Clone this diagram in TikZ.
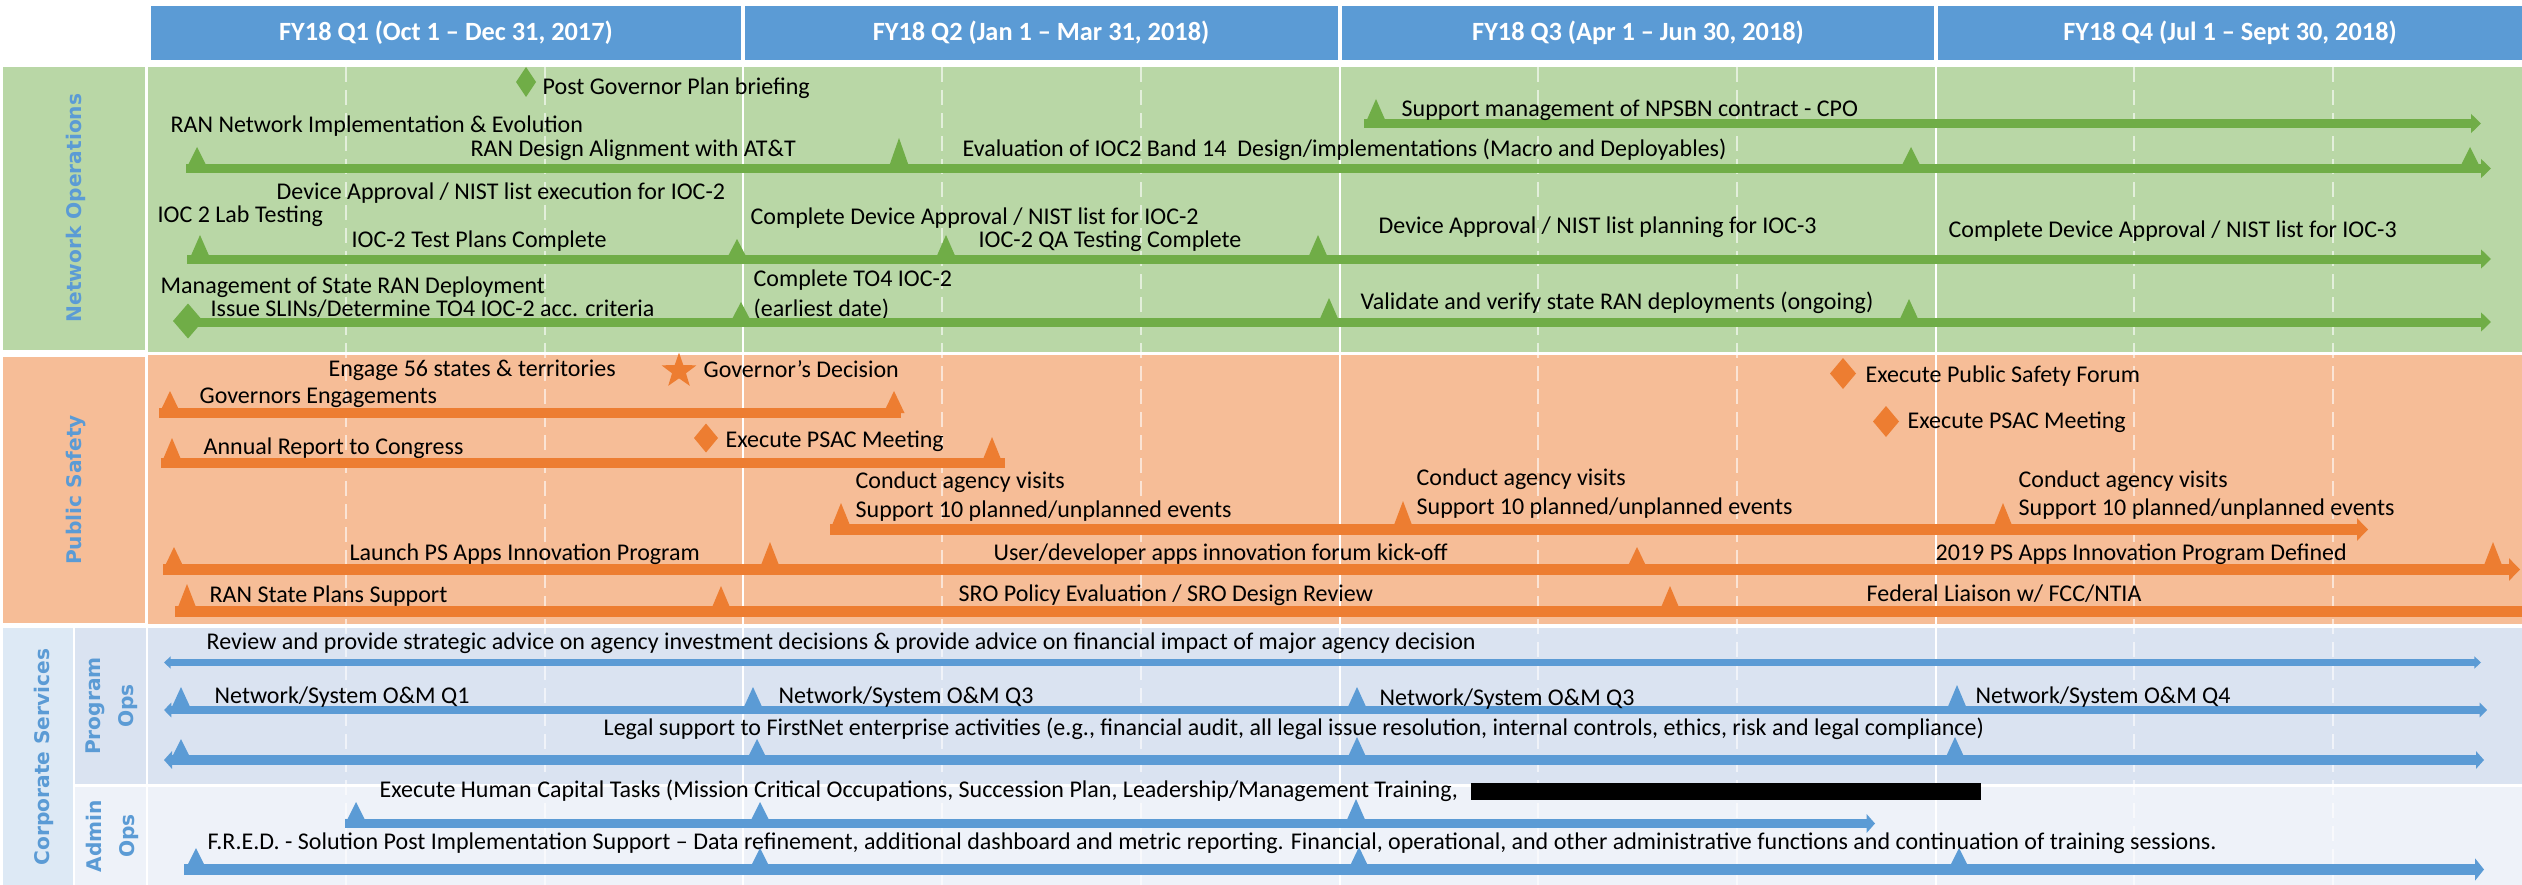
\documentclass[tikz,border=0pt]{standalone}
\usepackage{fontspec}
\setmainfont{Carlito}
\newfontfamily\lanefont{DejaVu Sans}
\usetikzlibrary{arrows.meta,shapes.geometric}
\definecolor{hdrblue}{HTML}{5B9BD5}
\definecolor{grnbg}{HTML}{B9D7A6}
\definecolor{grn}{HTML}{70AD47}
\definecolor{orbg}{HTML}{F6BD97}
\definecolor{orn}{HTML}{ED7D31}
\definecolor{pbg}{HTML}{DAE3F1}
\definecolor{abg}{HTML}{EEF2F9}
\definecolor{cbg}{HTML}{DDE9F5}
\definecolor{blu}{HTML}{5B9BD5}
\newcommand{\ms}[4]{\fill[#1] ({#2-10.5},#3) -- ({#2+10.5},#3) -- (#2,#4) -- cycle;}
\newcommand{\dm}[5]{\fill[#1] (#2,{#3-#5}) -- ({#2+#4},#3) -- (#2,{#3+#5}) -- ({#2-#4},#3) -- cycle;}
\begin{document}
\begin{tikzpicture}[x=0.3pt,y=-0.3pt,
 lbl/.style={anchor=base west, inner sep=0, font=\fontsize{7.2}{8.6}\selectfont, text=black},
 hdr/.style={font=\bfseries\fontsize{7.9}{9.5}\selectfont, text=white, inner sep=0},
 lane/.style={font=\lanefont\bfseries\fontsize{6.05}{6.8}\selectfont, text=blu, rotate=90, inner sep=0, align=center},
 lane2/.style={lane, font=\lanefont\bfseries\fontsize{6.05}{9.9}\selectfont},
 gbar/.style={draw=grn, line width=2.7pt},
 garr/.style={gbar, -{Triangle[length=3pt,width=5.6pt]}},
 obar/.style={draw=orn, line width=2.9pt},
 oarr/.style={draw=orn, line width=3.3pt, -{Triangle[length=3.3pt,width=6.6pt]}},
 grid/.style={draw=white, opacity=0.6, line width=0.6pt, dash pattern=on 4.5pt off 2.4pt},
 qline/.style={draw=white, line width=0.7pt},
]
\useasboundingbox (0,0) rectangle (2522,885);
% header
\fill[hdrblue] (151,6) rectangle (741,60);
\fill[hdrblue] (745,6) rectangle (1338,60);
\fill[hdrblue] (1342,6) rectangle (1934,60);
\fill[hdrblue] (1938,6) rectangle (2522,60);
\node[hdr] (q1) at (446,33) {FY18 Q1 (Oct 1 – Dec 31, 2017)};
\node[hdr] (q2) at (1041,33) {FY18 Q2 (Jan 1 – Mar 31, 2018)};
\node[hdr] (q3) at (1638,33) {FY18 Q3 (Apr 1 – Jun 30, 2018)};
\node[hdr] (q4) at (2230,33) {FY18 Q4 (Jul 1 – Sept 30, 2018)};
% lane backgrounds
\fill[grnbg] (3,67) rectangle (145,350);
\fill[grnbg] (148,67) rectangle (2522,352);
\fill[orbg] (3,357) rectangle (145,623);
\fill[orbg] (148,355) rectangle (2522,624);
\fill[cbg] (3,628) rectangle (73,885);
\fill[pbg] (75,628) rectangle (146,784);
\fill[abg] (75,787) rectangle (146,885);
\fill[pbg] (148,628) rectangle (2522,784);
\fill[abg] (148,787) rectangle (2522,885);
% grid lines
\foreach \gx in {346,545,942,1141,1538,1737,2134,2333}
  \draw[grid] (\gx,67) -- (\gx,885);
\foreach \gx in {743,1340,1936}
  \draw[qline] (\gx,67) -- (\gx,885);
% lane labels
\node[lane] (netlbl) at (76,208) {Network Operations};
\node[lane] (pslbl) at (76,490) {Public Safety};
\node[lane] (cslbl) at (44,757) {Corporate Services};
\node[lane2] (pglbl) at (112,706) {Program\\Ops};
\node[lane2] (adlbl) at (112,836) {Admin\\Ops};

% ===== Network Operations =====
\dm{grn}{526}{82}{10}{15}
\node[lbl] (n1) at (542,95) {Post Governor Plan briefing};
\draw[garr] (1364,123.5) -- (2481,123.5);
\ms{grn}{1376}{123}{99}
\node[lbl] (n2) at (1401,117) {Support management of NPSBN contract - CPO};

\node[lbl] (n3a) at (170,133) {RAN Network Implementation \& Evolution};
\node[lbl] (n3b) at (470,157) {RAN Design Alignment with AT\&T};
\node[lbl] (n3c) at (962,157) {Evaluation of IOC2 Band 14 \ Design/implementations (Macro and Deployables)};
\draw[garr] (186,168.5) -- (2491,168.5);
\ms{grn}{197}{168}{147}
\ms{grn}{899}{168}{138}
\ms{grn}{1911}{168}{147}
\ms{grn}{2470}{168}{147}

\node[lbl] (n4a) at (276,200) {Device Approval / NIST list execution for IOC-2};
\node[lbl] (n4b) at (157,222) {IOC 2 Lab Testing};
\node[lbl] (n4c) at (351,247) {IOC-2 Test Plans Complete};
\node[lbl] (n4d) at (750,225) {Complete Device Approval / NIST list for IOC-2};
\node[lbl] (n4e) at (978,247) {IOC-2 QA Testing Complete};
\node[lbl] (n4f) at (1378,234) {Device Approval / NIST list planning for IOC-3};
\node[lbl] (n4g) at (1948,237) {Complete Device Approval / NIST list for IOC-3};
\draw[garr] (187,259) -- (2491,259);
\ms{grn}{200}{259}{235}
\ms{grn}{737}{259}{239}
\ms{grn}{946}{259}{235}
\ms{grn}{1318}{259}{235}

\node[lbl] (n5a) at (160,293) {Management of State RAN Deployment};
\node[lbl] (n5b) at (210,316) {Issue SLINs/Determine TO4 IOC-2 acc. criteria};
\node[lbl] (n5c) at (753,287) {Complete TO4 IOC-2};
\node[lbl] (n5d) at (753,316) {(earliest date)};
\node[lbl] (n5e) at (1360,309) {Validate and verify state RAN deployments (ongoing)};
\draw[garr] (188,322) -- (2491,322);
\dm{grn}{188}{321}{15}{17.5}
\ms{grn}{741}{322}{302}
\ms{grn}{1329}{322}{298}
\ms{grn}{1909}{322}{299}

% ===== Public Safety =====
\node[lbl] (p1a) at (328,376) {Engage 56 states \& territories};
\node[star, star points=5, star point ratio=2.5, fill=orn, inner sep=0, minimum size=11pt] (star) at (679,371) {};
\node[lbl] (p1b) at (703,377) {Governor’s Decision};
\dm{orn}{1843}{373.5}{13}{15.5}
\node[lbl] (p1c) at (1865,382) {Execute Public Safety Forum};
\dm{orn}{1886}{421.5}{13}{15.5}
\node[lbl] (p1d) at (1907,428) {Execute PSAC Meeting};

\node[lbl] (p2) at (199,403) {Governors Engagements};
\draw[obar] (159,413) -- (901,413);
\ms{orn}{170}{413}{391}
\ms{orn}{894}{413}{391}

\node[lbl] (p3a) at (203,454) {Annual Report to Congress};
\draw[obar] (161,463) -- (1005,463);
\ms{orn}{172}{463}{438}
\ms{orn}{992}{463}{437}
\dm{orn}{706}{438}{12}{14.5}
\node[lbl] (p3b) at (725,447) {Execute PSAC Meeting};

\draw[oarr] (830,529.5) -- (2368,529.5);
\ms{orn}{841}{529}{503}
\ms{orn}{1403}{529}{501}
\ms{orn}{2003}{529}{503}
\node[lbl] (p4a) at (855,488) {Conduct agency visits};
\node[lbl] (p4b) at (855,517) {Support 10 planned/unplanned events};
\node[lbl] (p4c) at (1416,485) {Conduct agency visits};
\node[lbl] (p4d) at (1416,514) {Support 10 planned/unplanned events};
\node[lbl] (p4e) at (2018,487) {Conduct agency visits};
\node[lbl] (p4f) at (2018,515) {Support 10 planned/unplanned events};

\draw[oarr] (163,569.5) -- (2520,569.5);
\ms{orn}{174}{569}{547}
\ms{orn}{770}{569}{542}
\ms{orn}{1637}{569}{547}
\ms{orn}{2493}{569}{542}
\node[lbl] (p5a) at (349,560) {Launch PS Apps Innovation Program};
\node[lbl] (p5b) at (993,560) {User/developer apps innovation forum kick-off};
\node[lbl] (p5c) at (1935,560) {2019 PS Apps Innovation Program Defined};

\draw[draw=orn, line width=3.3pt] (175,611) -- (2522,611);
\ms{orn}{187}{611}{584}
\ms{orn}{721}{611}{586}
\ms{orn}{1670}{611}{586}
\node[lbl] (p6a) at (209,602) {RAN State Plans Support};
\node[lbl] (p6b) at (958,601) {SRO Policy Evaluation / SRO Design Review};
\node[lbl] (p6c) at (1866,601) {Federal Liaison w/ FCC/NTIA};

% ===== Corporate Services =====
\node[lbl] (c1) at (206,649) {Review and provide strategic advice on agency investment decisions \& provide advice on financial impact of major agency decision};
\draw[draw=blu, line width=2pt, {Triangle[length=2pt,width=3.6pt]}-{Triangle[length=2pt,width=3.6pt]}] (164,662.5) -- (2481,662.5);

\draw[draw=blu, line width=2.3pt, {Triangle[length=2.2pt,width=4.3pt]}-{Triangle[length=2.2pt,width=4.3pt]}] (164,710) -- (2487,710);
\ms{blu}{181}{710}{687}
\ms{blu}{753}{710}{687}
\ms{blu}{1357}{710}{687}
\ms{blu}{1957}{710}{685}
\node[lbl] (c2a) at (214,703) {Network/System O\&M Q1};
\node[lbl] (c2b) at (778,703) {Network/System O\&M Q3};
\node[lbl] (c2c) at (1379,705) {Network/System O\&M Q3};
\node[lbl] (c2d) at (1975,703) {Network/System O\&M Q4};

\node[lbl] (c3) at (603,735) {Legal support to FirstNet enterprise activities (e.g., financial audit, all legal issue resolution, internal controls, ethics, risk and legal compliance)};
\draw[draw=blu, line width=2.8pt, {Triangle[length=2.4pt,width=5.2pt]}-{Triangle[length=2.4pt,width=5.2pt]}] (164,760) -- (2484,760);
\ms{blu}{181}{760}{739}
\ms{blu}{757}{760}{739}
\ms{blu}{1357}{760}{737}
\ms{blu}{1955}{760}{737}

\node[lbl] (c4) at (379,797) {Execute Human Capital Tasks (Mission Critical Occupations, Succession Plan, Leadership/Management Training,};
\fill[black] (1471,783) rectangle (1981,800);
\draw[draw=blu, line width=2.6pt, -{Triangle[length=2.5pt,width=5.5pt]}] (345,823.5) -- (1875,823.5);
\ms{blu}{356}{823}{802}
\ms{blu}{760}{823}{802}
\ms{blu}{1356}{823}{799}

\node[lbl] (c5) at (207,849) {F.R.E.D. - Solution Post Implementation Support – Data refinement, additional dashboard and metric reporting. Financial, operational, and other administrative functions and continuation of training sessions.};
\draw[draw=blu, line width=3.2pt, -{Triangle[length=2.7pt,width=6.6pt]}] (184,869.5) -- (2484,869.5);
\ms{blu}{196}{869}{848}
\ms{blu}{760}{869}{848}
\ms{blu}{1359}{869}{847}
\ms{blu}{1959}{869}{848}
\end{tikzpicture}
\end{document}
